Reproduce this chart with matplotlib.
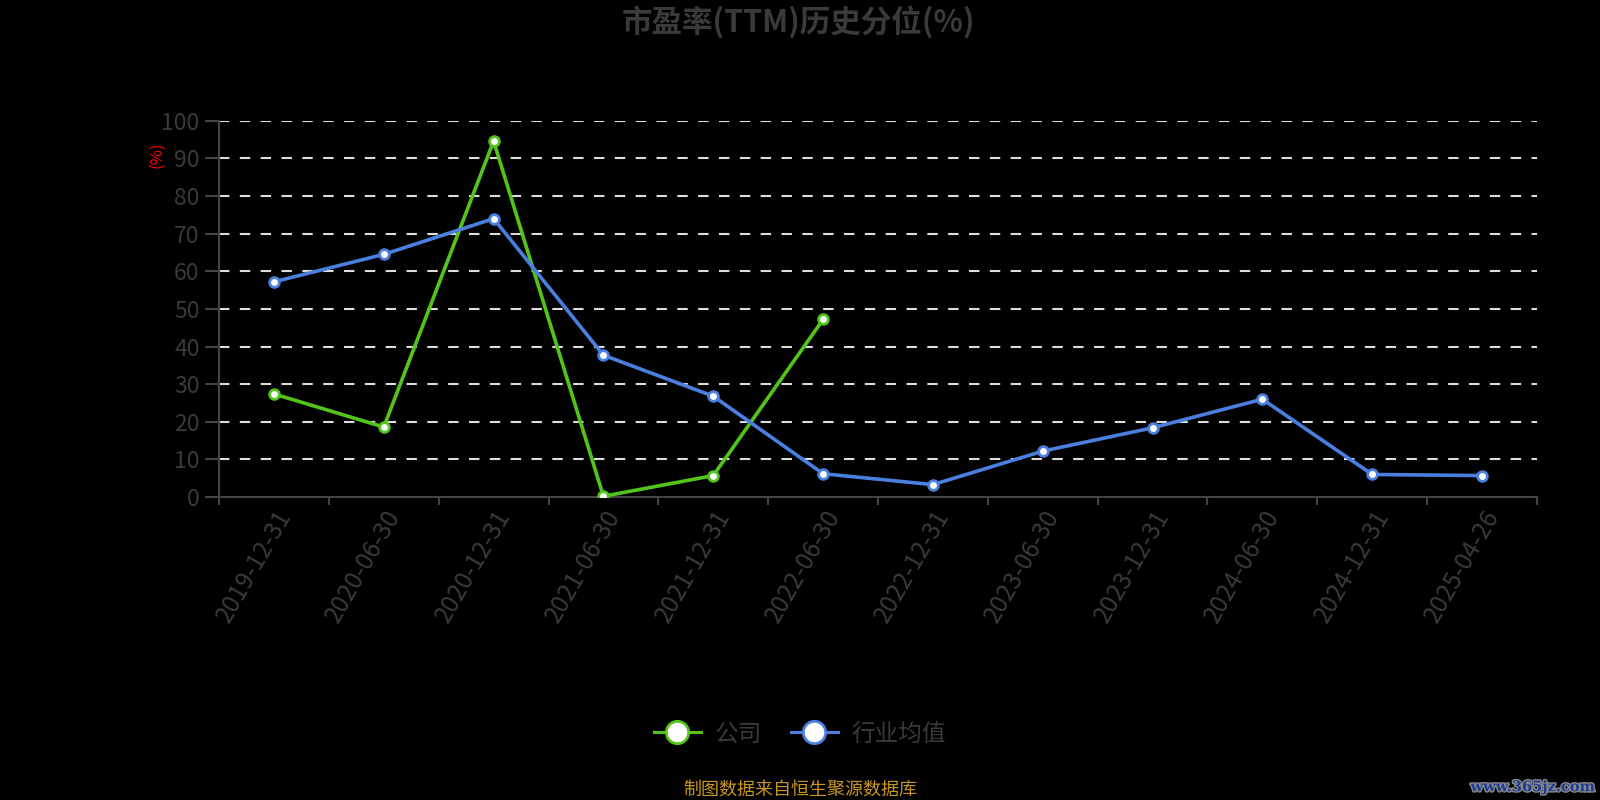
import matplotlib
matplotlib.use("Agg")
import matplotlib.pyplot as plt
import matplotlib.patheffects as pe
import numpy as np

plt.rcParams['font.family'] = ['Noto Sans CJK SC', 'DejaVu Sans']

categories = ["2019-12-31", "2020-06-30", "2020-12-31", "2021-06-30", "2021-12-31",
              "2022-06-30", "2022-12-31", "2023-06-30", "2023-12-31", "2024-06-30",
              "2024-12-31", "2025-04-26"]
company = [27.4, 18.6, 94.6, 0.2, 5.7, 47.2]
industry = [57.2, 64.5, 74.0, 37.7, 26.8, 6.2, 3.3, 12.2, 18.4, 26.0, 6.0, 5.7]
yticks = [0, 10, 20, 30, 40, 50, 60, 70, 80, 90, 100]

green = '#52c41a'
blue = '#4a7fe0'
txt = '#3a3a3a'

fig = plt.figure(figsize=(16, 8), dpi=100, facecolor='black')
ax = fig.add_axes([0.1369, 0.3787, 0.8237, 0.4703], facecolor='black')

x_ind = np.arange(len(industry))
x_com = np.arange(len(company))

ax.plot(x_com, company, color=green, lw=2.6, marker='o', ms=7,
        markerfacecolor='white', markeredgecolor=green, markeredgewidth=2, zorder=4,
        label='公司')
ax.plot(x_ind, industry, color=blue, lw=2.6, marker='o', ms=7,
        markerfacecolor='white', markeredgecolor=blue, markeredgewidth=2, zorder=4,
        label='行业均值')

ax.set_xlim(-0.5, len(categories) - 0.5)
ax.set_ylim(0, 100)
ax.set_yticks(yticks)
ax.set_yticklabels([str(v) for v in yticks], fontsize=16.5, color=txt)
ax.set_xticks(np.arange(len(categories) + 1) - 0.5, minor=False)
ax.set_xticklabels([])
ax.set_xticks(np.arange(len(categories)), minor=True)
ax.set_xticklabels(categories, minor=True, rotation=60, ha='right',
                   rotation_mode='anchor', fontsize=17.5, color=txt)
ax.tick_params(axis='x', which='minor', length=0, pad=6)
ax.tick_params(axis='x', which='major', length=6, color='#444444', width=1.5)
ax.tick_params(axis='y', length=10, color='#444444', width=1.5, pad=4)

for v in yticks[1:]:
    ax.axhline(v, color='#dddddd', lw=1.5, ls=(0, (5, 5)), zorder=1)

for s in ['top', 'right']:
    ax.spines[s].set_visible(False)
for s in ['left', 'bottom']:
    ax.spines[s].set_color('#444444')
    ax.spines[s].set_linewidth(1.5)

fig.text(0.499, 0.972, '市盈率(TTM)历史分位(%)', ha='center', va='center',
         fontsize=22, fontweight='bold', color=txt)
fig.text(0.098, 0.806, '(%)', ha='center', va='center', rotation=90,
         fontsize=12, color='red')

leg = fig.legend(loc='center', bbox_to_anchor=(0.5, 0.0825), ncol=2, frameon=False,
                 fontsize=17, labelcolor=txt, markerscale=2.3, handlelength=2.0,
                 columnspacing=1.2, handletextpad=0.6)
for line in leg.get_lines():
    line.set_linewidth(2.2)

fig.text(0.5, 0.0135, '制图数据来自恒生聚源数据库', ha='center', va='center',
         fontsize=13, color='#c8961e')
fig.text(0.997, 0.016, 'www.365jz.com', ha='right', va='center', fontsize=10.5,
         color='#1e3c96', fontweight='bold', family=['DejaVu Serif'],
         path_effects=[pe.withStroke(linewidth=2, foreground='#888888')])

fig.savefig('out.png', dpi=100, facecolor='black')
